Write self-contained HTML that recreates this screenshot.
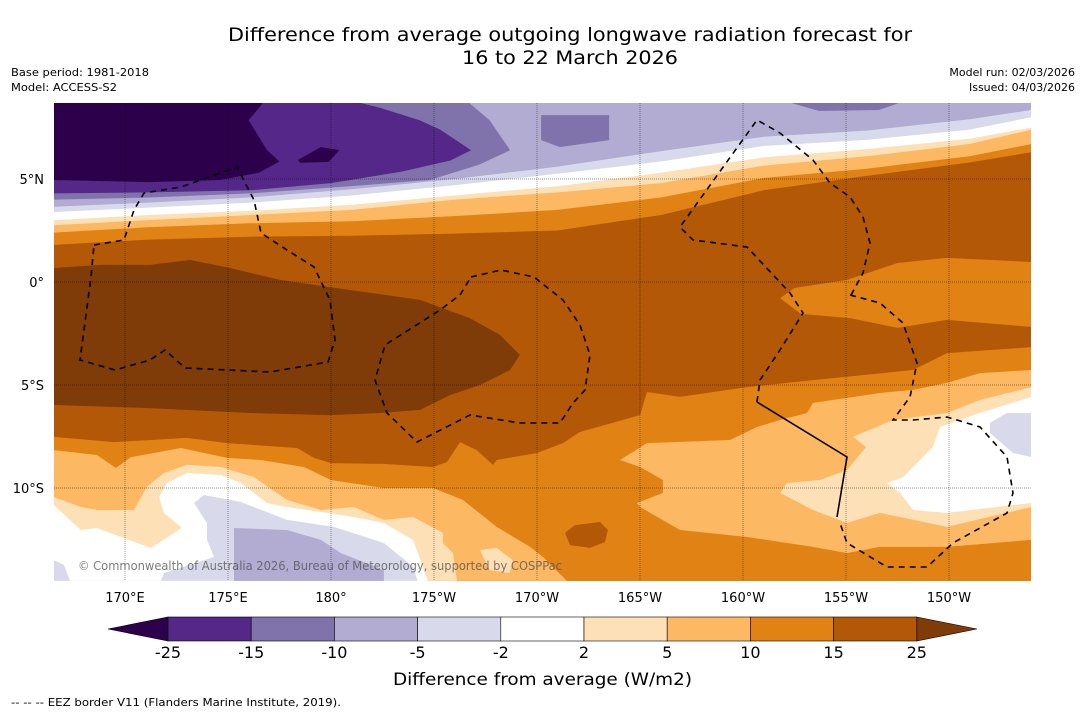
<!DOCTYPE html>
<html><head><meta charset="utf-8">
<style>
body{margin:0;background:#fff;width:1085px;height:713px;overflow:hidden;font-family:"DejaVu Sans","Liberation Sans",sans-serif;}
svg text{font-family:"DejaVu Sans","Liberation Sans",sans-serif;}
</style></head>
<body>
<svg id="chart" width="1085" height="713" viewBox="0 0 1085 713" xmlns="http://www.w3.org/2000/svg">
<text x="228" y="41" font-size="19" textLength="684" lengthAdjust="spacingAndGlyphs">Difference from average outgoing longwave radiation forecast for</text>
<text x="462" y="64" font-size="19" textLength="216" lengthAdjust="spacingAndGlyphs">16 to 22 March 2026</text>
<text x="11" y="76" font-size="11" textLength="138" lengthAdjust="spacingAndGlyphs">Base period: 1981-2018</text>
<text x="11" y="91" font-size="11" textLength="106" lengthAdjust="spacingAndGlyphs">Model: ACCESS-S2</text>
<text x="1075" y="76" font-size="11" text-anchor="end">Model run: 02/03/2026</text>
<text x="1075" y="91" font-size="11" text-anchor="end">Issued: 04/03/2026</text>
<defs><clipPath id="mapclip"><rect x="54" y="103" width="977" height="478"/></clipPath></defs>
<g id="map" clip-path="url(#mapclip)"></g>
<g id="axes"></g>
<g id="cbar"></g>
<text x="393" y="685" font-size="17" textLength="299" lengthAdjust="spacingAndGlyphs">Difference from average (W/m2)</text>
<text x="11" y="706" font-size="11" textLength="330" lengthAdjust="spacingAndGlyphs">--  --  -- EEZ border V11 (Flanders Marine Institute, 2019).</text>
</svg>
<script>
// ---- data ----
const northLons = [166.55,171,176,181,186,191,196,201,206,211,214.0];
const c1Lat = [1.8,2.05,2.2,2.25,2.35,2.5,3.25,4.45,5.15,5.8,6.3];
const c2Lat = [2.4,2.65,2.85,2.95,3.2,3.5,4.1,5.05,5.5,6.1,6.7];
const c3Lat = [2.75,3.0,3.25,3.5,4.0,4.35,4.8,5.65,6.1,6.7,7.4];
const c4Lat = [3.0,3.25,3.45,3.75,4.2,4.65,5.3,6.05,6.45,6.95,7.5];
const c5Lat = [3.4,3.6,3.85,4.2,4.7,5.25,5.85,6.6,6.9,7.4,8.0];
const c6Lat = [3.65,3.85,4.1,4.5,5.0,5.6,6.35,7.05,7.35,7.9,8.35];
const pMinus10 = [[166.55,8.7],[166.55,4.0],[171.2,4.1],[176.1,4.3],[180.9,4.65],[184.8,4.95],[187.2,5.7],[188.7,6.4],[187.7,7.85],[186.7,8.7]];
const pMinus15 = [[166.55,8.7],[166.55,4.3],[171.2,4.35],[176.1,4.45],[180.0,4.8],[183.4,5.35],[185.8,5.9],[186.8,6.4],[185.3,7.4],[184.3,7.85],[182.4,8.45],[181.4,8.7]];
const pMinus25 = [[166.55,8.7],[166.55,4.95],[171.2,4.85],[174.6,4.95],[176.5,5.3],[177.5,5.85],[176.9,6.4],[176.0,7.85],[176.5,8.45],[176.7,8.7]];
const pMinus25b = [[178.4,5.92],[179.5,6.55],[180.4,6.41],[179.9,5.83],[178.5,5.78]];
const pMinus10b = [[190.2,8.1],[193.5,8.1],[193.5,6.89],[191.1,6.55],[190.2,6.89]];
const pMinus10c = [[202.3,8.7],[207.6,8.7],[206.6,8.35],[203.7,8.3]];
const darkOrange = [[166.55,8.7],[214,8.7],[214,-3.16],[209.9,-3.45],[208.25,-4.27],[203.4,-4.76],[200.19,-5.10],[196.94,-5.58],[195.34,-5.34],[195.0,-6.46],[192.08,-7.28],[191.26,-7.82],[190.0,-8.30],[188.05,-8.64],[187.86,-8.88],[187.08,-8.16],[186.26,-7.77],[185.63,-8.74],[184.95,-8.98],[182.57,-8.83],[180.0,-8.79],[179.17,-8.54],[178.35,-8.06],[174.95,-7.82],[173.01,-7.57],[169.46,-7.77],[166.55,-7.52]];
const brown = [[166.55,0.68],[168.78,0.83],[171.2,0.83],[173.16,1.07],[175.1,0.68],[177.52,0.1],[180.92,-0.39],[184.32,-0.87],[186.74,-1.75],[188.2,-2.57],[189.17,-3.54],[188.69,-4.27],[187.23,-5.0],[185.77,-5.49],[184.32,-6.21],[182.38,-6.36],[179.95,-6.46],[176.07,-6.36],[171.2,-6.12],[166.55,-5.97]];
const orangeStripe = [[201.8,-0.78],[202.5,-0.29],[205.05,0.1],[207.5,0.92],[209.9,1.17],[214,0.97],[214,-2.18],[209.9,-1.84],[207.5,-2.23],[205.2,-1.75],[202.8,-1.55]];
const swLightOrange = [[166.55,-8.16],[168.64,-8.40],[169.56,-9.03],[170.29,-8.50],[172.72,-8.06],[174.95,-8.54],[176.60,-8.64],[178.69,-8.98],[180.0,-9.61],[182.57,-10.0],[184.95,-10.0],[186.40,-10.58],[188.05,-11.89],[189.66,-12.86],[190.29,-13.35],[191.45,-14.51],[166.55,-14.51]];
const swPale = [[166.55,-10.44],[167.86,-10.92],[168.64,-11.07],[170.43,-11.07],[171.06,-9.95],[171.89,-9.27],[173.01,-8.88],[174.66,-8.98],[176.26,-9.47],[177.86,-10.58],[179.51,-11.07],[181.11,-10.92],[182.57,-11.55],[183.98,-11.41],[185.43,-12.18],[185.43,-12.67],[185.92,-13.16],[186.11,-14.51],[166.55,-14.51]];
const palePatch = [[187.23,-13.01],[188.05,-12.91],[188.83,-13.50],[188.68,-14.13],[187.7,-13.98]];
const swWhite = [[166.55,-10.83],[167.86,-12.04],[168.64,-11.94],[169.80,-12.38],[171.26,-12.91],[172.76,-11.94],[171.89,-11.21],[171.65,-10.44],[172.03,-9.76],[173.01,-9.27],[174.66,-9.37],[175.63,-9.76],[176.89,-10.73],[177.86,-10.92],[179.80,-11.21],[181.11,-11.41],[182.57,-11.70],[183.98,-12.52],[184.46,-13.83],[184.7,-14.51],[166.55,-14.51]];
const swLightLav = [[173.35,-10.73],[173.83,-10.34],[175.63,-10.68],[177.86,-11.55],[180.14,-11.89],[182.57,-12.67],[184.0,-13.83],[184.2,-14.51],[171.74,-14.51],[171.89,-14.13],[174.32,-13.35],[173.98,-12.52],[173.98,-11.70]];
const cornerLav = [[166.55,-13.5],[167.04,-13.74],[167.33,-14.51],[166.55,-14.51]];
const swLav = [[175.29,-11.94],[177.86,-12.04],[179.51,-12.52],[180.48,-13.16],[182.57,-13.98],[182.57,-14.51],[175.29,-14.51]];
const darkBlob = [[191.36,-12.18],[191.84,-11.80],[193.06,-11.65],[193.44,-12.04],[193.30,-12.62],[192.57,-12.91],[191.60,-12.77]];
const seLightOrange = [[194.03,-8.64],[195.34,-7.82],[199.37,-7.67],[200.68,-7.04],[201.8,-6.70],[203.11,-6.36],[203.4,-5.87],[206.65,-5.39],[208.25,-5.24],[209.9,-4.90],[211.5,-4.42],[214,-4.27],[214,-12.52],[209.9,-12.86],[206.65,-12.86],[205.05,-13.16],[203.4,-12.86],[200.19,-12.38],[196.94,-12.04],[195.0,-10.92],[194.85,-10.73],[196.11,-10.24],[196.11,-9.61],[195.0,-8.98]];
const sePale = [[205.34,-7.52],[207.28,-6.70],[209.9,-6.36],[211.5,-5.73],[214,-5.10],[214,-10.92],[209.9,-11.89],[206.65,-11.21],[205.05,-11.70],[203.4,-11.07],[201.8,-10.24],[202.13,-9.76],[203.74,-9.61],[205.05,-9.13],[205.97,-8.01]];
const seWhite = [[206.99,-9.76],[207.77,-9.47],[209.22,-8.01],[209.56,-7.04],[211.5,-6.36],[214,-5.58],[214,-10.73],[209.9,-11.21],[208.25,-11.07],[207.62,-10.24]];
const seLav = [[211.99,-6.84],[212.81,-6.36],[214,-6.36],[214,-8.50],[213.1,-8.30],[211.99,-7.33]];
const lonTicks = [170,175,180,185,190,195,200,205,210];
const lonLabels = ["170°E","175°E","180°","175°W","170°W","165°W","160°W","155°W","150°W"];
const latTicks = [5,0,-5,-10];
const latLabels = ["5°N","0°","5°S","10°S"];
const cbLevels = [-25,-15,-10,-5,-2,2,5,10,15,25];
const cbLabels = ["-25","-15","-10","-5","-2","2","5","10","15","25"];
const cbColors = ["#542788","#8073ac","#b2abd2","#d8daeb","#ffffff","#fee0b6","#fdb863","#e08214","#b35806"];

// ---- projection ----
const X = lon => 125 + (lon - 170) * 20.6;
const Y = lat => 282 - lat * 20.6;
const NS = "http://www.w3.org/2000/svg";
const map = document.getElementById('map');
function poly(pts, color, name){
  const p = document.createElementNS(NS,'polygon');
  p.setAttribute('points', pts.map(q => X(q[0]).toFixed(1)+','+Y(q[1]).toFixed(1)).join(' '));
  p.setAttribute('fill', color);
  
  
  map.appendChild(p);
}
function above(lats, color, name){
  const pts = northLons.map((l,i)=>[l,lats[i]]);
  pts.push([214,8.8],[166.55,8.8]);
  poly(pts, color, name);
}
const base = document.createElementNS(NS,'rect');
base.setAttribute('x',54);base.setAttribute('y',103);base.setAttribute('width',977);base.setAttribute('height',478);base.setAttribute('fill','#e08214');


map.appendChild(base);
poly(darkOrange,'#b35806','band-15-25');
poly(brown,'#7f3b08','band-above-25');
poly(orangeStripe,'#e08214','band-10-15-east');
poly(swLightOrange,'#fdb863','band-5-10-sw');
poly(swPale,'#fee0b6','band-2-5-sw');
poly(palePatch,'#fee0b6','band-2-5-patch');
poly(swWhite,'#ffffff','band-neutral-sw');
poly(swLightLav,'#d8daeb','band-m5-m2-sw');
poly(cornerLav,'#d8daeb','band-m5-m2-corner');
poly(swLav,'#b2abd2','band-m10-m5-sw');
poly(darkBlob,'#b35806','band-15-25-blob');
poly(seLightOrange,'#fdb863','band-5-10-se');
poly(sePale,'#fee0b6','band-2-5-se');
poly(seWhite,'#ffffff','band-neutral-se');
poly(seLav,'#d8daeb','band-m5-m2-se');
above(c1Lat,'#e08214','band-10-15-north');
above(c2Lat,'#fdb863','band-5-10-north');
above(c3Lat,'#fee0b6','band-2-5-north');
above(c4Lat,'#ffffff','band-neutral-north');
above(c5Lat,'#d8daeb','band-m5-m2-north');
above(c6Lat,'#b2abd2','band-m10-m5-north');
poly(pMinus10,'#8073ac','band-m15-m10');
poly(pMinus10b,'#8073ac','band-m15-m10-blob');
poly(pMinus10c,'#8073ac','band-m15-m10-blob2');
poly(pMinus15,'#542788','band-m25-m15');
poly(pMinus25,'#2d004b','band-below-m25');
poly(pMinus25b,'#2d004b','band-below-m25-blob');

// EEZ borders (map features)
const eez = [
 "M94,245 L124,240 L134,210 L144,193 L181,187 L237,167 L254,200 L261,233 L287,250 L314,267 L330,300 L335,340 L328,362 L270,372 L185,368 L165,350 L150,360 L115,370 L80,360 L91,277 Z",
 "M471,277 L501,270 L534,277 L563,300 L580,325 L590,355 L585,390 L573,403 L560,423 L520,423 L470,415 L417,442 L387,413 L375,380 L385,345 L440,310 L460,295 Z",
 "M757,402 L760,380 L780,350 L803,313 L790,293 L747,247 L693,240 L680,227 L757,120 L780,133 L813,160 L830,183 L850,197 L863,217 L870,243 L863,273 L850,297",
 "M850,295 L880,303 L903,323 L917,363 L910,397 L893,420 L913,420 L947,417 L980,427 L1007,457 L1013,493 L1007,513 L953,543 L927,567 L887,567 L847,543 L840,523"
];
eez.forEach((d,i)=>{
  const p=document.createElementNS(NS,'path');
  p.setAttribute('d',d);p.setAttribute('fill','none');p.setAttribute('stroke','#000');p.setAttribute('stroke-width','1.6');p.setAttribute('stroke-dasharray','6,5');
  
  
  map.appendChild(p);
});
const solid=document.createElementNS(NS,'path');
solid.setAttribute('d','M757,402 L847,457 L837,517');solid.setAttribute('fill','none');solid.setAttribute('stroke','#000');solid.setAttribute('stroke-width','1.6');


map.appendChild(solid);

// gridlines + ticks
const axes=document.getElementById('axes');
lonTicks.forEach((l,i)=>{
  const ln=document.createElementNS(NS,'line');
  ln.setAttribute('x1',X(l));ln.setAttribute('x2',X(l));ln.setAttribute('y1',103);ln.setAttribute('y2',581);
  ln.setAttribute('stroke','rgba(0,0,0,0.55)');ln.setAttribute('stroke-width','0.7');ln.setAttribute('stroke-dasharray','1,1');
  
  
  axes.appendChild(ln);
  const t=document.createElementNS(NS,'text');
  t.setAttribute('x',X(l));t.setAttribute('y',602);t.setAttribute('font-size','13');t.setAttribute('text-anchor','middle');
  t.textContent=lonLabels[i];
  
  
  axes.appendChild(t);
});
latTicks.forEach((l,i)=>{
  const ln=document.createElementNS(NS,'line');
  ln.setAttribute('x1',54);ln.setAttribute('x2',1031);ln.setAttribute('y1',Y(l));ln.setAttribute('y2',Y(l));
  ln.setAttribute('stroke','rgba(0,0,0,0.55)');ln.setAttribute('stroke-width','0.7');ln.setAttribute('stroke-dasharray','1,1');
  
  
  axes.appendChild(ln);
  const t=document.createElementNS(NS,'text');
  t.setAttribute('x',44);t.setAttribute('y',Y(l)+5);t.setAttribute('font-size','13');t.setAttribute('text-anchor','end');
  t.textContent=latLabels[i];
  
  
  axes.appendChild(t);
});
const cr=document.createElementNS(NS,'text');
cr.setAttribute('x',78);cr.setAttribute('y',570);cr.setAttribute('font-size','12');cr.setAttribute('fill','rgba(80,80,80,0.75)');
cr.setAttribute('textLength','484');cr.setAttribute('lengthAdjust','spacingAndGlyphs');
cr.textContent='© Commonwealth of Australia 2026, Bureau of Meteorology, supported by COSPPac';


axes.appendChild(cr);

// colorbar
const cb=document.getElementById('cbar');
const CX = i => 168 + i*83.2;
const cy0=617, cy1=641;
const triL=document.createElementNS(NS,'polygon');
triL.setAttribute('points',`108,629 ${CX(0)},${cy0} ${CX(0)},${cy1}`);triL.setAttribute('fill','#2d004b');triL.setAttribute('stroke','#000');triL.setAttribute('stroke-width','0.6');


cb.appendChild(triL);
const triR=document.createElementNS(NS,'polygon');
triR.setAttribute('points',`${CX(9)},${cy0} 977,629 ${CX(9)},${cy1}`);triR.setAttribute('fill','#7f3b08');triR.setAttribute('stroke','#000');triR.setAttribute('stroke-width','0.6');


cb.appendChild(triR);
cbColors.forEach((c,i)=>{
  const r=document.createElementNS(NS,'rect');
  r.setAttribute('x',CX(i));r.setAttribute('y',cy0);r.setAttribute('width',83.2);r.setAttribute('height',cy1-cy0);
  r.setAttribute('fill',c);r.setAttribute('stroke','#000');r.setAttribute('stroke-width','0.6');
  
  
  cb.appendChild(r);
});
cbLevels.forEach((v,i)=>{
  const t=document.createElementNS(NS,'text');
  t.setAttribute('x',CX(i));t.setAttribute('y',658);t.setAttribute('font-size','16');t.setAttribute('text-anchor','middle');
  t.textContent=cbLabels[i];
  
  
  cb.appendChild(t);
});
</script>
</body></html>
